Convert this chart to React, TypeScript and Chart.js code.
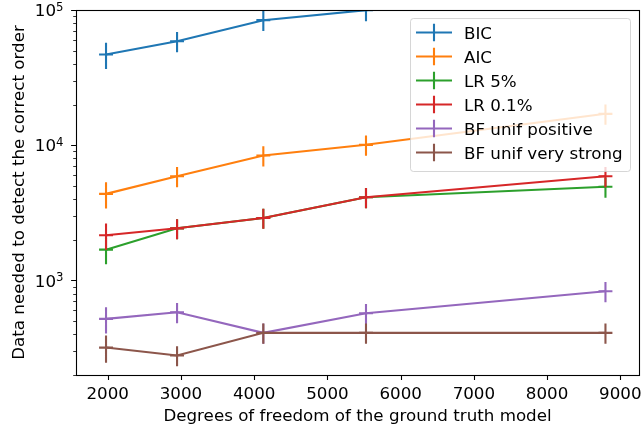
import React, { useEffect, useRef } from 'react';
import { Chart, registerables } from 'chart.js';

Chart.register(...registerables);

// Degrees of freedom of the ground truth model (x positions)
const dofValues = [1977, 2947, 4125, 5527, 8797];
const xErrValues = [95, 95, 95, 95, 95];

const seriesLabels = ['BIC', 'AIC', 'LR 5%', 'LR 0.1%', 'BF unif positive', 'BF unif very strong'];
const seriesColors = ['#1f77b4', '#ff7f0e', '#2ca02c', '#d62728', '#9467bd', '#8c564b'];

const bicValues = [46900, 58800, 84100, 99700, 150000];
const bicErr = [10300, 10000, 14300, 17000, 25500];
const aicValues = [4370, 5900, 8390, 10070, 17070];
const aicErr = [960, 1000, 1430, 1710, 2900];
const lr5Values = [1690, 2430, 2900, 4120, 4930];
const lr5Err = [370, 410, 490, 700, 840];
const lr01Values = [2160, 2430, 2900, 4120, 5900];
const lr01Err = [475, 410, 490, 700, 1000];
const bfPosValues = [520, 582, 410, 572, 832];
const bfPosErr = [115, 99, 70, 97, 141];
const bfStrongValues = [319, 279, 410, 410, 410];
const bfStrongErr = [73, 47, 70, 70, 70];

const seriesValues = [bicValues, aicValues, lr5Values, lr01Values, bfPosValues, bfStrongValues];
const seriesErrors = [bicErr, aicErr, lr5Err, lr01Err, bfPosErr, bfStrongErr];

const xTicks = [2000, 3000, 4000, 5000, 6000, 7000, 8000, 9000];
const yMajorTicks = [1000, 10000, 100000];
const yMinorTicks = [200, 300, 400, 500, 600, 700, 800, 900, 2000, 3000, 4000, 5000, 6000, 7000, 8000, 9000, 20000, 30000, 40000, 50000, 60000, 70000, 80000, 90000];
const yExponents = ['3', '4', '5'];

const xTitle = 'Degrees of freedom of the ground truth model';
const yTitle = 'Data needed to detect the correct order';

const FONT = '"DejaVu Sans", sans-serif';
const FS = 16.7;

const errorBarPlugin = {
  id: 'errorBars',
  afterDatasetDraw(chart: any, args: any) {
    const i = args.index;
    const { ctx, chartArea, scales } = chart;
    const xs = scales.x;
    const ys = scales.y;
    const vals = seriesValues[i];
    const errs = seriesErrors[i];
    ctx.save();
    ctx.beginPath();
    ctx.rect(chartArea.left, chartArea.top, chartArea.right - chartArea.left, chartArea.bottom - chartArea.top);
    ctx.clip();
    ctx.strokeStyle = seriesColors[i];
    ctx.lineWidth = 2.1;
    ctx.lineCap = 'butt';
    ctx.beginPath();
    dofValues.forEach((xv, j) => {
      const px = xs.getPixelForValue(xv);
      const py = ys.getPixelForValue(vals[j]);
      ctx.moveTo(px, ys.getPixelForValue(vals[j] - errs[j]));
      ctx.lineTo(px, ys.getPixelForValue(vals[j] + errs[j]));
      ctx.moveTo(xs.getPixelForValue(xv - xErrValues[j]), py);
      ctx.lineTo(xs.getPixelForValue(xv + xErrValues[j]), py);
    });
    ctx.stroke();
    ctx.restore();
  },
};

const axesPlugin = {
  id: 'mplAxes',
  afterDatasetsDraw(chart: any) {
    const { ctx, chartArea, scales } = chart;
    const xs = scales.x;
    const ys = scales.y;
    const { left, right, top, bottom } = chartArea;
    ctx.save();
    ctx.strokeStyle = '#000';
    ctx.lineWidth = 1.1;
    ctx.beginPath();
    xTicks.forEach((v) => {
      const px = Math.round(xs.getPixelForValue(v)) + 0.5;
      ctx.moveTo(px, bottom);
      ctx.lineTo(px, bottom + 4.9);
    });
    yMajorTicks.forEach((v) => {
      const py = Math.round(ys.getPixelForValue(v)) + 0.5;
      ctx.moveTo(left, py);
      ctx.lineTo(left - 4.9, py);
    });
    ctx.stroke();
    ctx.lineWidth = 0.8;
    ctx.beginPath();
    yMinorTicks.forEach((v) => {
      const py = Math.round(ys.getPixelForValue(v)) + 0.5;
      ctx.moveTo(left, py);
      ctx.lineTo(left - 2.8, py);
    });
    ctx.stroke();
    ctx.lineWidth = 1.1;
    ctx.strokeRect(Math.round(left) + 0.5, Math.round(top) + 0.5, Math.round(right - left), Math.round(bottom - top));
    ctx.fillStyle = '#000';
    ctx.textBaseline = 'alphabetic';
    yMajorTicks.forEach((v, k) => {
      const py = ys.getPixelForValue(v);
      ctx.font = '11.7px ' + FONT;
      ctx.textAlign = 'left';
      ctx.fillText(yExponents[k], 56, py + 0.5);
      ctx.font = FS + 'px ' + FONT;
      ctx.textAlign = 'right';
      ctx.fillText('10', 56, py + 6.2);
    });
    ctx.restore();
  },
  afterDraw(chart: any) {
    const { ctx } = chart;
    ctx.save();
    const bx = 410.5, by = 18.5, bw = 220, bh = 153, r = 3;
    ctx.beginPath();
    ctx.moveTo(bx + r, by);
    ctx.lineTo(bx + bw - r, by);
    ctx.quadraticCurveTo(bx + bw, by, bx + bw, by + r);
    ctx.lineTo(bx + bw, by + bh - r);
    ctx.quadraticCurveTo(bx + bw, by + bh, bx + bw - r, by + bh);
    ctx.lineTo(bx + r, by + bh);
    ctx.quadraticCurveTo(bx, by + bh, bx, by + bh - r);
    ctx.lineTo(bx, by + r);
    ctx.quadraticCurveTo(bx, by, bx + r, by);
    ctx.closePath();
    ctx.fillStyle = 'rgba(255,255,255,0.8)';
    ctx.fill();
    ctx.strokeStyle = 'rgba(204,204,204,0.8)';
    ctx.lineWidth = 1;
    ctx.stroke();
    chart.data.datasets.forEach((ds: any, i: number) => {
      const cy = 32.5 + i * 24;
      ctx.strokeStyle = seriesColors[i];
      ctx.lineWidth = 2.1;
      ctx.beginPath();
      ctx.moveTo(416, cy);
      ctx.lineTo(452, cy);
      ctx.moveTo(434, cy - 8.7);
      ctx.lineTo(434, cy + 8.7);
      ctx.stroke();
      ctx.fillStyle = '#000';
      ctx.font = FS + 'px ' + FONT;
      ctx.textAlign = 'left';
      ctx.textBaseline = 'alphabetic';
      ctx.fillText(ds.label, 464, cy + 6.1);
    });
    ctx.restore();
  },
};

export default function App() {
  const canvasRef = useRef<HTMLCanvasElement | null>(null);

  useEffect(() => {
    const canvas = canvasRef.current;
    if (!canvas) return;
    const datasets = seriesLabels.map((label, i) => ({
      label,
      data: dofValues.map((x, j) => ({ x, y: seriesValues[i][j] })),
      borderColor: seriesColors[i],
      backgroundColor: seriesColors[i],
      borderWidth: 2.1,
      pointRadius: 0,
      pointHoverRadius: 0,
      tension: 0,
      fill: false,
      order: seriesLabels.length - i,
    }));
    const chart = new Chart(canvas, {
      type: 'line',
      data: { datasets },
      options: {
        animation: false,
        responsive: false,
        devicePixelRatio: 1,
        layout: { padding: { top: 10, right: 5, left: 0, bottom: 0 } },
        plugins: {
          legend: { display: false },
          tooltip: { enabled: false },
        },
        scales: {
          x: {
            type: 'linear',
            min: 1567,
            max: 9255,
            grid: { display: false, drawTicks: false },
            border: { display: false },
            afterBuildTicks: (scale: any) => {
              scale.ticks = xTicks.map((v) => ({ value: v }));
            },
            afterFit: (scale: any) => {
              scale.height = 57;
              scale.paddingLeft = 0;
              scale.paddingRight = 0;
            },
            ticks: {
              autoSkip: false,
              maxRotation: 0,
              padding: 9.5,
              color: '#000',
              font: { family: FONT, size: FS },
              callback: (v: any) => String(v),
            },
            title: {
              display: true,
              text: xTitle,
              color: '#000',
              font: { family: FONT, size: FS },
              padding: { top: 0, bottom: 5 },
            },
          },
          y: {
            type: 'logarithmic',
            min: 200,
            max: 100000,
            grid: { display: false, drawTicks: false },
            border: { display: false },
            afterFit: (scale: any) => {
              scale.width = 76;
              scale.paddingTop = 0;
              scale.paddingBottom = 0;
            },
            ticks: { display: false },
            title: {
              display: true,
              text: yTitle,
              color: '#000',
              font: { family: FONT, size: FS },
              padding: { top: 10, bottom: 0 },
            },
          },
        },
      },
      plugins: [errorBarPlugin, axesPlugin],
    });
    return () => chart.destroy();
  }, []);

  return (
    <div style={{ position: 'absolute', left: 0, top: 0, width: 644, height: 432, background: '#fff' }}>
      <canvas ref={canvasRef} width={644} height={432} />
    </div>
  );
}
